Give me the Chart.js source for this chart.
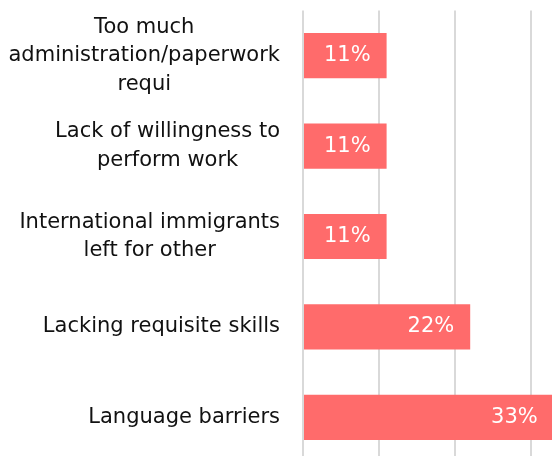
<!DOCTYPE html>
<html>
<head>
<meta charset="utf-8">
<script src="https://cdn.jsdelivr.net/npm/chart.js@4/dist/chart.umd.min.js"></script>
<style>
  html, body { margin: 0; padding: 0; background: #fff; overflow: hidden; }
  #wrap { width: 552px; height: 456px; overflow: hidden; }
</style>
</head>
<body>
<div id="wrap"><canvas id="reasons-chart" width="607" height="470"></canvas></div>
<script>
// причины, по которым уходят работники — доли ответов
const categories = [
    ['Too much', 'administration/paperwork', 'requi'],
    ['Lack of willingness to', 'perform work'],
    ['International immigrants', 'left for other'],
    'Lacking requisite skills',
    'Language barriers'
];
const shares = [11, 11, 11, 22, 33];

const BAR_COLOR = '#FF6B6B';
const FONT = '"DejaVu Sans", Verdana, sans-serif';

// подписи категорий: блок прижат вправо, строки внутри блока по центру
const categoryLabels = {
    id: 'categoryLabels',
    afterDraw(chart) {
        const ctx = chart.ctx;
        const yScale = chart.scales.y;
        const right = chart.chartArea.left - 23;
        const lineHeight = 28.5;
        ctx.save();
        ctx.font = '21px ' + FONT;
        ctx.fillStyle = '#111';
        ctx.textAlign = 'center';
        ctx.textBaseline = 'middle';
        categories.forEach((label, i) => {
            const lines = Array.isArray(label) ? label : [label];
            const maxW = Math.max(...lines.map(l => ctx.measureText(l).width));
            const cx = right - maxW / 2;
            const y = yScale.getPixelForTick(i);
            lines.forEach((line, j) => {
                ctx.fillText(line, cx, y + (j - (lines.length - 1) / 2) * lineHeight);
            });
        });
        ctx.restore();
    }
};

// значения внутри столбиков, у правого края
const valueLabels = {
    id: 'valueLabels',
    afterDatasetsDraw(chart) {
        const ctx = chart.ctx;
        const meta = chart.getDatasetMeta(0);
        ctx.save();
        ctx.font = '21px ' + FONT;
        ctx.fillStyle = '#fff';
        ctx.textAlign = 'right';
        ctx.textBaseline = 'middle';
        meta.data.forEach((bar, i) => {
            ctx.fillText(shares[i] + '%', bar.x - 16, bar.y);
        });
        ctx.restore();
    }
};

new Chart(document.getElementById('reasons-chart'), {
    type: 'bar',
    data: {
        labels: categories,
        datasets: [{
            data: shares,
            backgroundColor: BAR_COLOR,
            borderWidth: 0,
            barPercentage: 0.5,
            categoryPercentage: 1
        }]
    },
    options: {
        indexAxis: 'y',
        responsive: false,
        animation: false,
        layout: { padding: { top: 10.5, bottom: 7.5, left: 0, right: 0 } },
        plugins: {
            legend: { display: false },
            tooltip: { enabled: false }
        },
        scales: {
            x: {
                min: 0,
                max: 40,
                ticks: { display: false, stepSize: 10 },
                grid: { color: '#d9d9d9', lineWidth: 2, drawTicks: false },
                border: { display: false }
            },
            y: {
                ticks: { display: false },
                grid: { display: false },
                border: { display: false },
                afterFit(scale) { scale.width = 303; }
            }
        }
    },
    plugins: [categoryLabels, valueLabels]
});
</script>
</body>
</html>
